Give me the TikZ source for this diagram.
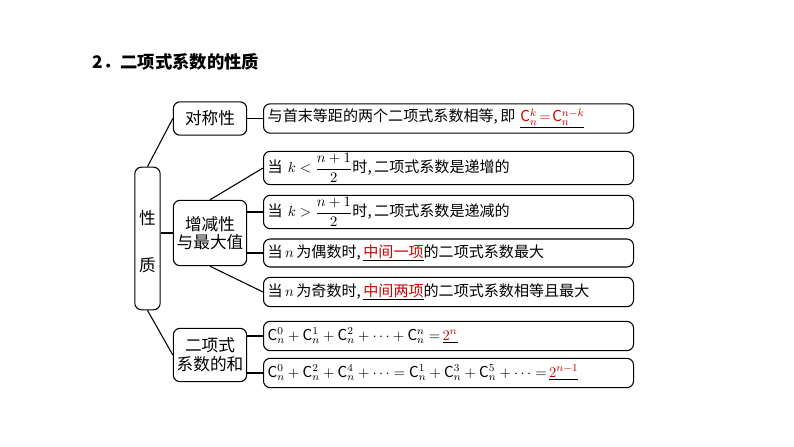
\documentclass[tikz,border=0pt]{standalone}
\usepackage{amsmath}
\usepackage{fontspec}
\setmainfont{Noto Sans CJK SC}
\usepackage{tikz}
\tikzset{
  ibox/.style={draw, thick, rounded corners=5pt, inner sep=0pt, font=\fontsize{12.5}{14}\selectfont},
  rbox/.style={ibox, anchor=west, minimum width=277.5pt, text width=275pt, align=left, font=\fontsize{11.3}{13}\selectfont},
}
\newcommand{\keyline}[1]{\underline{\textcolor{red!80!black}{#1}}}
\begin{document}
\begin{tikzpicture}[x=0.75pt, y=-0.75pt]
  \useasboundingbox (0,0) rectangle (794,447);
  % title
  \node[anchor=west, font=\bfseries\fontsize{13}{15}\selectfont] (title) at (88,62) {2．二项式系数的性质};

  % left boxes
  \node[ibox, minimum width=19pt, minimum height=107pt] (xz) at (147.5,238.5) {};
  \node[font=\fontsize{12.5}{14}\selectfont] (xz1) at (147.5,218) {性};
  \node[font=\fontsize{12.5}{14}\selectfont] (xz2) at (147.5,265) {质};
  \node[ibox, minimum width=55pt, minimum height=25pt] (dc) at (210,118.5) {对称性};
  \node[ibox, minimum width=55pt, minimum height=49pt, align=center] (zj) at (210,233) {增减性\\与最大值};
  \node[ibox, minimum width=55pt, minimum height=40pt, align=center] (he) at (210,355) {二项式\\系数的和};

  % right boxes
  \node[rbox, minimum height=22pt] (r1) at (263,118.5) {\,与首末等距的两个二项式系数相等,\,即 \keyline{$\mathrm{C}_n^k\!=\!\mathrm{C}_n^{n-k}$}};
  \node[rbox, minimum height=25pt] (r2) at (263,168) {\,当 $k<\dfrac{n+1}{2}$时,\,二项式系数是递增的};
  \node[rbox, minimum height=25pt] (r3) at (263,212) {\,当 $k>\dfrac{n+1}{2}$时,\,二项式系数是递减的};
  \node[rbox, minimum height=21pt] (r4) at (263,253) {\,当$\,n\,$为偶数时,\,\keyline{中间一项}的二项式系数最大};
  \node[rbox, minimum height=22pt] (r5) at (263,292) {\,当$\,n\,$为奇数时,\,\keyline{中间两项}的二项式系数相等且最大};
  \node[rbox, minimum height=22pt] (r6) at (263,336) {\,$\mathrm{C}_n^0+\mathrm{C}_n^1+\mathrm{C}_n^2+\cdots+\mathrm{C}_n^n=$\,\keyline{$2^n$}};
  \node[rbox, minimum height=22pt] (r7) at (263,373) {\,$\mathrm{C}_n^0+\mathrm{C}_n^2+\mathrm{C}_n^4+\cdots=\mathrm{C}_n^1+\mathrm{C}_n^3+\mathrm{C}_n^5+\cdots=$\,\keyline{$2^{n-1}$}};

  % connectors
  \draw[thick] (xz.north) -- (dc.west);
  \draw[thick] (xz.east |- zj.west) -- (zj.west);
  \draw[thick] (xz.south) -- (he.west);
  \draw[thick] (dc.east) -- (r1.west);
  \draw[thick] (zj.north) -- (r2.west);
  \draw[thick] (zj.east |- r3.west) -- (r3.west);
  \draw[thick] (zj.east |- r4.west) -- (r4.west);
  \draw[thick] (zj.south) -- (r5.west);
  \draw[thick] (he.east |- r6.west) -- (r6.west);
  \draw[thick] (he.east |- r7.west) -- (r7.west);
\end{tikzpicture}
\end{document}
